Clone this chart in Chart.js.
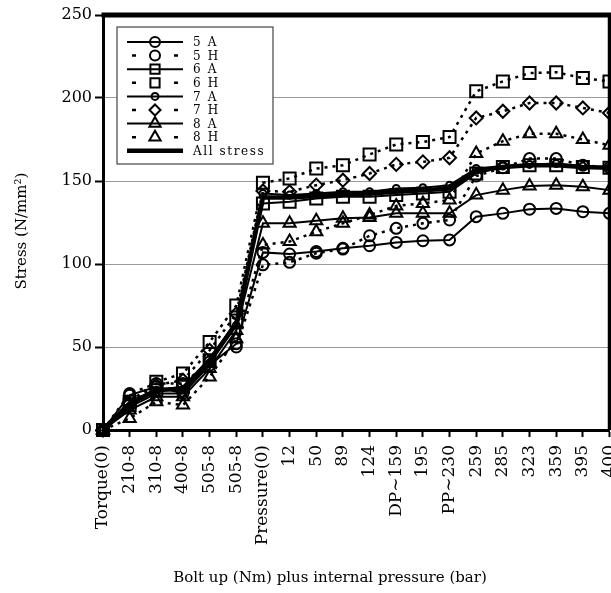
<!DOCTYPE html>
<html>
<head>
<meta charset="utf-8">
<script src="https://cdn.jsdelivr.net/npm/chart.js@4/dist/chart.umd.min.js"></script>
<style>
  html, body { margin: 0; padding: 0; background: #fff; overflow: hidden; }
  #wrap { position: relative; width: 611px; height: 593px; overflow: hidden; }
  #c { display: block; }
</style>
</head>
<body>
<div id="wrap"><canvas id="c" width="620" height="593"></canvas></div>
<script>
// Load steps: bolt-up torque (Nm) followed by internal pressure (bar)
const categories = ['Torque(0)', '210-8', '310-8', '400-8', '505-8', '505-8', 'Pressure(0)',
  '12', '50', '89', '124', 'DP\u223C159', '195', 'PP\u223C230', '259', '285', '323', '359', '395', '400'];

// Stress (N/mm²) per gauge location, A and H
const s5A = [0, 21, 26, 22, 39, 52, 107, 106, 107.5, 109.5, 111, 113, 114, 114.5, 128.5, 130.5, 133, 133.5, 131.5, 130.5];
const s5H = [0, 22, 28, 28, 41, 50, 99.5, 101, 106.5, 109, 117, 121.5, 124.5, 126.5, 153, 158, 163.5, 163.5, 159.5, 158];
const s6A = [0, 15, 24, 26, 42, 66, 136.5, 137.5, 139.5, 140.5, 140.5, 141.5, 142.5, 143.5, 154.5, 158.5, 159.5, 159.5, 158.5, 158];
const s6H = [0, 17, 29, 34, 53, 75, 149, 151.5, 157.5, 159.5, 166, 172, 173.5, 176.5, 204, 210, 215, 215.5, 212, 210];
const s7A = [0, 14, 22, 22, 40, 63, 142.5, 141.5, 142.5, 143.5, 143.5, 145.5, 146, 147.5, 157.5, 159, 160, 160.5, 159, 158];
const s7H = [0, 16, 27, 30, 48, 70, 144, 143.5, 147.5, 150.5, 154.5, 160, 161.5, 164, 188, 192, 197, 197, 194, 191];
const s8A = [0, 12, 20, 20, 37, 60, 124.5, 124.5, 126, 127.5, 128, 130.5, 130.5, 130.5, 141.5, 144.5, 147, 147.5, 146.5, 144.5];
const s8H = [0, 7, 17, 15, 32, 55, 111.5, 113.5, 119.5, 124.5, 129.5, 135, 136.5, 138.5, 166.5, 174, 178.5, 178.5, 175, 171.5];
const sAll = [0, 16, 24, 25, 42, 64, 140, 140, 141, 142, 142.5, 143.5, 144.5, 145.5, 156, 158.5, 159.5, 159.5, 158.5, 158];

const yTicks = [0, 50, 100, 150, 200, 250];

const SERIF = '"DejaVu Serif", "Liberation Serif", serif';
const DOTS = [3, 5];
const NONE = 'rgba(0,0,0,0)';

function series(label, data, style, radius, dashed, keyRadius) {
  return {
    label, data,
    borderColor: '#000',
    borderWidth: dashed ? 2.5 : 2,
    borderDash: dashed ? DOTS : [],
    pointStyle: style,
    pointRadius: radius,
    pointBorderWidth: 2,
    pointBorderColor: '#000',
    pointBackgroundColor: NONE,
    tension: 0,
    fill: false,
    clip: false,
    keyDashed: dashed,
    keyRadius: keyRadius
  };
}

const datasets = [
  series('5 A', s5A, 'circle', 5.5, false, 5),
  series('5 H', s5H, 'circle', 5.5, true, 5),
  series('6 A', s6A, 'rect', 8.5, false, 6.5),
  series('6 H', s6H, 'rect', 8.5, true, 6.5),
  series('7 A', s7A, 'circle', 3.5, false, 3.5),
  series('7 H', s7H, 'rectRot', 6.5, true, 5.5),
  series('8 A', s8A, 'triangle', 7, false, 6.5),
  series('8 H', s8H, 'triangle', 7, true, 6.5),
  Object.assign(series('All stress', sAll, false, 0, false, 0), { borderWidth: 4.5 })
];

// Marker for the key samples
function marker(ctx, style, r, x, y) {
  ctx.save();
  ctx.setLineDash([]);
  ctx.lineWidth = 2;
  ctx.strokeStyle = '#000';
  ctx.beginPath();
  if (style === 'circle') {
    ctx.arc(x, y, r, 0, Math.PI * 2);
  } else if (style === 'rect') {
    const s = r * Math.SQRT1_2;
    ctx.rect(x - s, y - s, 2 * s, 2 * s);
  } else if (style === 'rectRot') {
    ctx.moveTo(x - r, y); ctx.lineTo(x, y - r); ctx.lineTo(x + r, y); ctx.lineTo(x, y + r); ctx.closePath();
  } else if (style === 'triangle') {
    const h = r * 1.5, w = r * Math.sqrt(3) / 2;
    ctx.moveTo(x - w, y + h / 3); ctx.lineTo(x + w, y + h / 3); ctx.lineTo(x, y - 2 * h / 3); ctx.closePath();
  }
  ctx.stroke();
  ctx.restore();
}

const decor = {
  id: 'decor',
  afterDraw(chart) {
    const ctx = chart.ctx;
    const a = chart.chartArea;
    ctx.save();
    // heavy frame on top and right
    ctx.strokeStyle = '#000';
    ctx.lineWidth = 5;
    ctx.beginPath();
    ctx.moveTo(a.left - 1.5, a.top);
    ctx.lineTo(a.right + 3, a.top);
    ctx.stroke();
    ctx.lineWidth = 3.5;
    ctx.beginPath();
    ctx.moveTo(a.right, a.top);
    ctx.lineTo(a.right, a.bottom);
    ctx.stroke();

    // key box
    const bx = 117, by = 27, bw = 156, bh = 137;
    ctx.fillStyle = '#fff';
    ctx.fillRect(bx, by, bw, bh);
    ctx.strokeStyle = '#444';
    ctx.lineWidth = 1.2;
    ctx.strokeRect(bx, by, bw, bh);
    ctx.font = '12px ' + SERIF;
    ctx.textBaseline = 'middle';
    ctx.textAlign = 'left';
    ctx.fillStyle = '#000';
    if ('letterSpacing' in ctx) ctx.letterSpacing = '1.6px';
    chart.data.datasets.forEach((ds, i) => {
      const y = 42 + i * 13.6;
      ctx.save();
      ctx.setLineDash([]);
      ctx.strokeStyle = '#000';
      ctx.lineWidth = ds.borderWidth;
      ctx.beginPath();
      if (ds.keyDashed) {
        ctx.moveTo(132, y); ctx.lineTo(136, y);
        ctx.moveTo(174, y); ctx.lineTo(178, y);
      } else {
        ctx.moveTo(127, y); ctx.lineTo(183, y);
      }
      ctx.stroke();
      ctx.restore();
      if (ds.pointStyle) marker(ctx, ds.pointStyle, ds.keyRadius, 155, y);
      ctx.fillText(ds.label, 193, y + 1);
    });
    if ('letterSpacing' in ctx) ctx.letterSpacing = '0px';

    // axis titles
    ctx.fillStyle = '#000';
    ctx.font = '15px ' + SERIF;
    ctx.textAlign = 'center';
    ctx.textBaseline = 'middle';
    ctx.fillText('Bolt up (Nm) plus internal pressure (bar)', 330, 578);
    ctx.translate(22, 231);
    ctx.rotate(-Math.PI / 2);
    ctx.fillText('Stress (N/mm\u00B2)', 0, 0);
    ctx.restore();
  }
};

new Chart(document.getElementById('c'), {
  type: 'line',
  data: { labels: categories, datasets },
  plugins: [decor],
  options: {
    responsive: false,
    animation: false,
    events: [],
    layout: { padding: { top: 15, right: 2, bottom: 0, left: 0 } },
    plugins: { legend: { display: false }, tooltip: { enabled: false } },
    scales: {
      x: {
        type: 'category',
        offset: false,
        border: { display: true, color: '#000', width: 3 },
        grid: { display: true, drawOnChartArea: false, drawTicks: true, tickLength: 7, tickColor: '#000', tickWidth: 2 },
        ticks: {
          autoSkip: false, minRotation: 90, maxRotation: 90, padding: 8,
          color: '#000', font: { family: SERIF, size: 17 }
        },
        afterFit(scale) { scale.height = 163; scale.paddingLeft = 0; scale.paddingRight = 0; }
      },
      y: {
        min: 0, max: 250,
        border: { display: true, color: '#000', width: 3 },
        grid: { color: '#9a9a9a', lineWidth: 1, tickLength: 8, tickColor: '#000', tickWidth: 2 },
        afterBuildTicks(scale) { scale.ticks = yTicks.map(v => ({ value: v })); },
        ticks: { padding: 3, color: '#000', font: { family: SERIF, size: 16 } },
        afterFit(scale) { scale.width = 103; scale.paddingTop = 0; scale.paddingBottom = 0; }
      }
    }
  }
});
</script>
</body>
</html>
